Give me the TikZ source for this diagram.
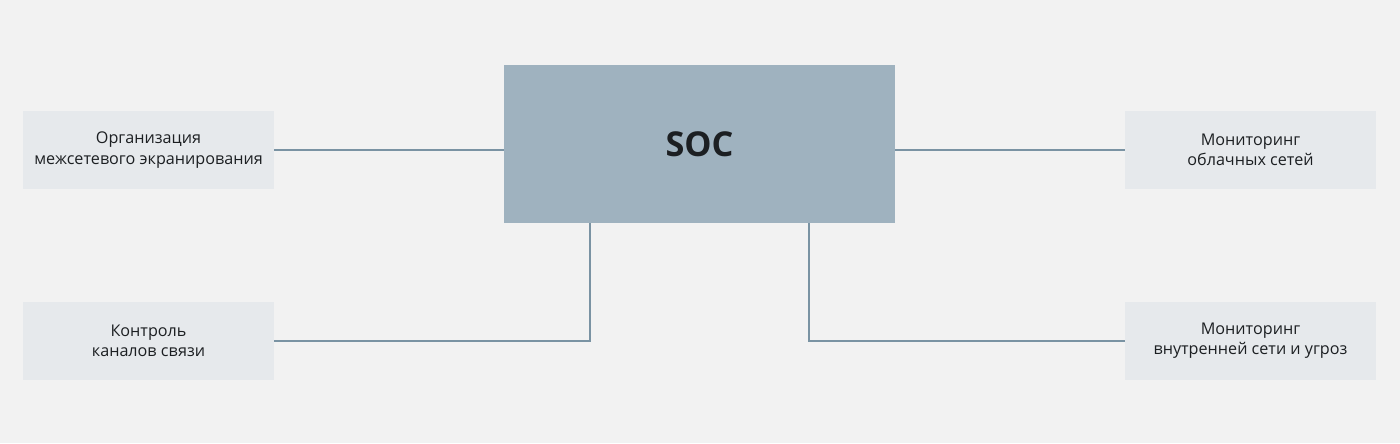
\documentclass[tikz,border=0pt]{standalone}
\usepackage{fontspec}
\setmainfont{Open Sans}
\usepackage{xcolor}
\usetikzlibrary{positioning}

\definecolor{bgpage}{HTML}{F2F2F2}
\definecolor{boxfill}{HTML}{E6E9EC}
\definecolor{socfill}{HTML}{9FB2BF}
\definecolor{linkline}{HTML}{7A93A3}
\definecolor{textdark}{HTML}{1C1F22}

\begin{document}
\begin{tikzpicture}
  [
  x=0.02cm,y=-0.02cm,
  side/.style={rectangle,fill=boxfill,inner sep=0pt,minimum width=5.02cm,minimum height=1.56cm,
    align=center,text=textdark,font=\fontsize{9.2}{11.5}\selectfont},
  hub/.style={rectangle,fill=socfill,inner sep=0pt,minimum width=7.82cm,minimum height=3.16cm,
    text=textdark,font=\fontsize{19.5}{22}\selectfont\bfseries},
  link/.style={draw=linkline,line width=1.3pt}
  ]
  \fill[bgpage] (0,0) rectangle (1400,443);
  \useasboundingbox (0,0) rectangle (1400,443);
  \node[hub] (soc) at (699.5,144) {SOC};
  \node[side] (firewall) at (148.5,150) {Организация\\межсетевого экранирования};
  \node[side] (channels) at (148.5,341) {Контроль\\каналов связи};
  \node[side] (cloud) at (1250.5,150) {Мониторинг\\облачных сетей};
  \node[side] (internal) at (1250.5,341) {Мониторинг\\внутренней сети и угроз};
  % connectors
  \draw[link] (firewall.east) -- (firewall.east -| soc.west);
  \draw[link] (cloud.west) -- (cloud.west -| soc.east);
  \draw[link] (channels.east) -| ([xshift=-2.19cm]soc.south);
  \draw[link] (internal.west) -| ([xshift=2.19cm]soc.south);
\end{tikzpicture}
\end{document}
